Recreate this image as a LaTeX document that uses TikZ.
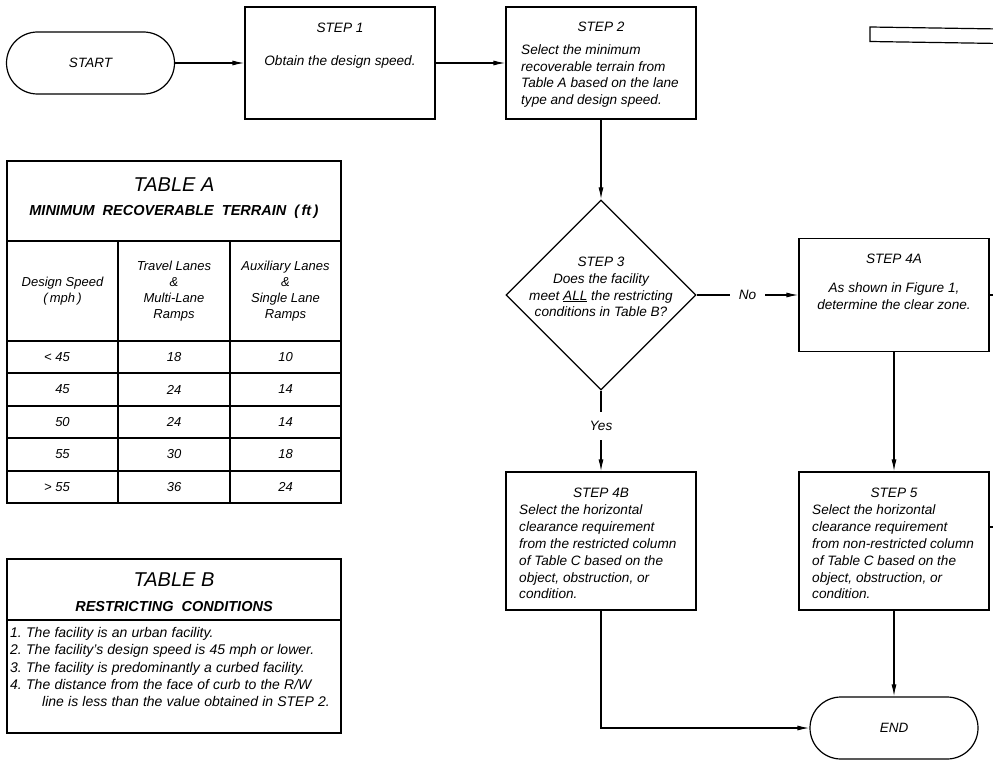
\documentclass[tikz,border=0pt]{standalone}
\usepackage{fontspec}
\setmainfont{Liberation Sans}
\usetikzlibrary{shapes.geometric,arrows.meta}
\begin{document}
\begin{tikzpicture}[x=1pt, y=-1pt]

      \tikzset{stepbox/.style={draw, rectangle, very thick, minimum width=190pt, inner sep=0pt},
               terminal/.style={draw, rectangle, very thick, rounded corners=31pt, minimum width=168pt, minimum height=62pt, font=\itshape\fontsize{13.5}{16}\selectfont},
               decision/.style={draw, diamond, very thick, minimum width=190pt, minimum height=190pt, inner sep=0pt},
               txt/.style={font=\itshape\fontsize{13.6}{16.8}\selectfont, inner sep=0pt},
               cell/.style={font=\itshape\fontsize{13}{16}\selectfont, inner sep=0pt, align=center},
               tabtitle/.style={font=\itshape\fontsize{20}{24}\selectfont, inner sep=0pt},
               tabsub/.style={font=\bfseries\itshape\fontsize{14.5}{17}\selectfont, inner sep=0pt}}
      \useasboundingbox (0,0) rectangle (993,760);
      \clip (0,0) rectangle (993,760);
%% Flow chart
      	\node[terminal] (start) at (90.5,63) {START};
      	\node[stepbox, minimum height=112pt] (s1) at (340,63) {};
      	\node[txt] (s1t) at (340,28) {STEP 1};
      	\node[txt] (s1b) at (340,62) {Obtain the design speed.};
      	\node[stepbox, minimum height=112pt] (s2) at (601,63) {};
      	\node[txt] (s2t) at (601,27) {STEP 2};
      	\node[txt, align=left, anchor=west] (s2b) at (521,76) {Select the minimum\\recoverable terrain from\\Table A based on the lane\\type and design speed.};
      	\node[decision] (s3) at (601,295) {};
      	\node[txt, align=center] (s3t) at (601,287) {STEP 3\\Does the facility\\meet \underline{ALL} the restricting\\conditions in Table B?};
      	\node[stepbox, minimum height=113pt] (s4a) at (894,295) {};
      	\node[txt] (s4at) at (894,259) {STEP 4A};
      	\node[txt, align=center] (s4ab) at (894,296) {As shown in Figure 1,\\determine the clear zone.};
      	\node[stepbox, minimum height=138pt] (s4b) at (601,541) {};
      	\node[txt] (s4bt) at (601,493) {STEP 4B};
      	\node[txt, align=left, anchor=west] (s4bb) at (519,552) {Select the horizontal\\clearance requirement\\from the restricted column\\of Table C based on the\\object, obstruction, or\\condition.};
      	\node[stepbox, minimum height=138pt] (s5) at (894,541) {};
      	\node[txt] (s5t) at (894,493) {STEP 5};
      	\node[txt, align=left, anchor=west] (s5b) at (812,552) {Select the horizontal\\clearance requirement\\from non-restricted column\\of Table C based on the\\object, obstruction, or\\condition.};
      	\node[terminal] (end) at (894,728) {END};
      	\coordinate (r4a) at (1000,295);
      	\coordinate (r5) at (1000,527);
%Edges
		\path [->, > = {Latex[length=12pt, width=5pt]}, very thick] (start) edge (s1);
		\path [->, > = {Latex[length=12pt, width=5pt]}, very thick] (s1) edge (s2);
		\path [->, > = {Latex[length=12pt, width=5pt]}, very thick] (s2) edge (s3);
		\path [->, > = {Latex[length=12pt, width=5pt]}, very thick] (s3) edge node[txt, fill=white, inner xsep=9pt] {No} (s4a);
		\path [->, > = {Latex[length=12pt, width=5pt]}, very thick] (s3) edge node[txt, fill=white, inner ysep=9pt, pos=0.44] {Yes} (s4b);
		\path [->, > = {Latex[length=12pt, width=5pt]}, very thick] (s4a) edge (s5);
		\path [->, > = {Latex[length=12pt, width=5pt]}, very thick] (s5) edge (end);
		\draw [->, > = {Latex[length=12pt, width=5pt]}, very thick] (s4b) |- (end);
		\draw [very thick] (s4a.east) -- (r4a);
		\draw [very thick] (s5.east |- r5) -- (r5);
		\draw [very thick] (1000,29) -- (870,27) -- (870,41.5) -- (1000,43.5);
%% Table A
		\draw [very thick] (7,161) rectangle (341,503);
		\draw [very thick] (7,241) -- (341,241) (7,341) -- (341,341) (7,373) -- (341,373)
		      (7,406) -- (341,406) (7,438) -- (341,438) (7,471) -- (341,471)
		      (118,241) -- (118,503) (230,241) -- (230,503);
		\node[tabtitle] (tat) at (174,185) {TABLE A};
		\node[tabsub] (tas) at (174,212) {MINIMUM\ \ RECOVERABLE\ \ TERRAIN\ \ (\,ft\,)};
		\node[cell] (ah1) at (62.5,291) {Design Speed\\(\,mph\,)};
		\node[cell] (ah2) at (174,291) {Travel Lanes\\\&\\Multi-Lane\\Ramps};
		\node[cell] (ah3) at (285.5,291) {Auxiliary Lanes\\\&\\Single Lane\\Ramps};
		\node[cell] (a11) at (57,357) {< 45};
		\node[cell] (a12) at (174,357) {18};
		\node[cell] (a13) at (285.5,357) {10};
		\node[cell] (a21) at (62.5,389.5) {45};
		\node[cell] (a22) at (174,389.5) {24};
		\node[cell] (a23) at (285.5,389.5) {14};
		\node[cell] (a31) at (62.5,422) {50};
		\node[cell] (a32) at (174,422) {24};
		\node[cell] (a33) at (285.5,422) {14};
		\node[cell] (a41) at (62.5,454.5) {55};
		\node[cell] (a42) at (174,454.5) {30};
		\node[cell] (a43) at (285.5,454.5) {18};
		\node[cell] (a51) at (57,487) {> 55};
		\node[cell] (a52) at (174,487) {36};
		\node[cell] (a53) at (285.5,487) {24};
%% Table B
		\draw [very thick] (7,559) rectangle (341,733);
		\draw [very thick] (7,620) -- (341,620);
		\node[tabtitle] (tbt) at (174,580) {TABLE B};
		\node[tabsub] (tbs) at (174,607) {RESTRICTING\ \ CONDITIONS};
		\node[txt, align=left, anchor=west, font={\itshape\fontsize{14}{17.2}\selectfont\spaceskip=0.3em\relax}] (tbl) at (10,667)
		      {\makebox[16pt][l]{1.}The facility is an urban facility.\\
		       \makebox[16pt][l]{2.}The facility's design speed is 45 mph or lower.\\
		       \makebox[16pt][l]{3.}The facility is predominantly a curbed facility.\\
		       \makebox[16pt][l]{4.}The distance from the face of curb to the R/W\\
		       \hspace*{32pt}line is less than the value obtained in STEP 2.};

	\end{tikzpicture}
\end{document}
